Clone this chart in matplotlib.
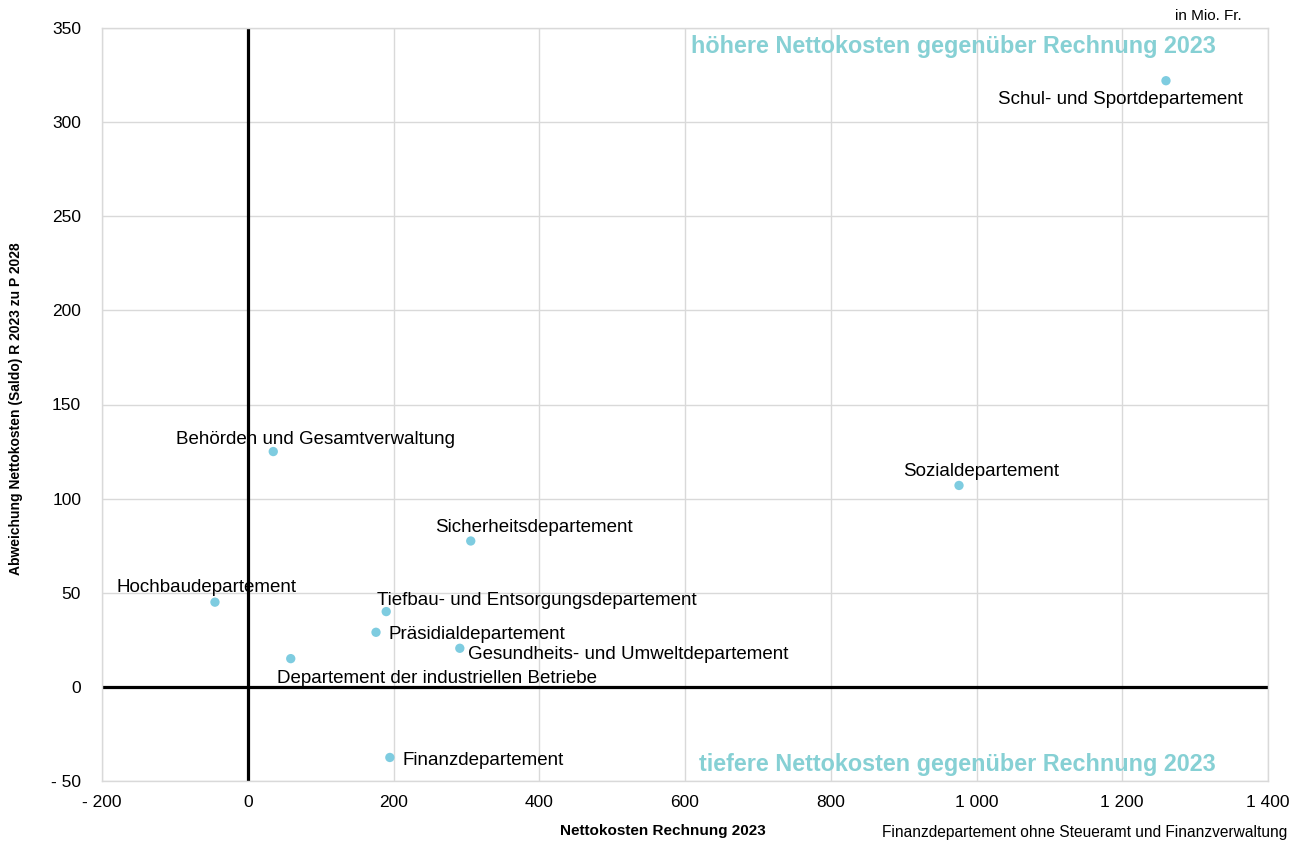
import matplotlib
matplotlib.use("Agg")
import matplotlib.pyplot as plt
from matplotlib.ticker import FuncFormatter

plt.rcParams['font.family'] = ['Liberation Sans', 'DejaVu Sans']

departments = [
    "Schul- und Sportdepartement",
    "Sozialdepartement",
    "Behörden und Gesamtverwaltung",
    "Sicherheitsdepartement",
    "Hochbaudepartement",
    "Tiefbau- und Entsorgungsdepartement",
    "Präsidialdepartement",
    "Gesundheits- und Umweltdepartement",
    "Departement der industriellen Betriebe",
    "Finanzdepartement",
]
nettokosten_2023 = [1260, 976, 35, 306, -45, 190, 176, 291, 59, 195]
abweichung = [322, 107, 125, 77.5, 45, 40, 29, 20.5, 15, -37.5]

# label placement (offset in pixels, alignment)
label_style = [
    (-46, -19, 'center', 'center'),
    (22, 14, 'center', 'center'),
    (42, 12, 'center', 'center'),
    (63, 13, 'center', 'center'),
    (-8, 15, 'center', 'center'),
    (-9, 11, 'left', 'center'),
    (12, -2, 'left', 'center'),
    (8, -6, 'left', 'center'),
    (-14, -20, 'left', 'center'),
    (13, -3, 'left', 'center'),
]

fig = plt.figure(figsize=(13, 8.42), dpi=100)
ax = fig.add_axes([102/1300, 1-781/842, (1268-102)/1300, (781-28)/842])

ax.set_xlim(-200, 1400)
ax.set_ylim(-50, 350)
ax.set_xticks(range(-200, 1401, 200))
ax.set_yticks(range(-50, 351, 50))

def fmt(v, pos):
    v = int(round(v))
    s = f"{abs(v):,}".replace(",", " ")
    return ("- " + s) if v < 0 else s

ax.xaxis.set_major_formatter(FuncFormatter(fmt))
ax.yaxis.set_major_formatter(FuncFormatter(fmt))
ax.tick_params(length=0, labelsize=12.5, colors='black')
ax.tick_params(axis='x', pad=10)
ax.tick_params(axis='y', pad=15)
ax.grid(True, color='#d9d9d9', linewidth=1)
ax.set_axisbelow(True)
for s in ax.spines.values():
    s.set_color('#d9d9d9')
    s.set_linewidth(1)

ax.axhline(0, color='black', linewidth=2.3, zorder=2)
ax.axvline(0, color='black', linewidth=2.3, zorder=2)

ax.scatter(nettokosten_2023, abweichung, s=45, color='#7ecce0', edgecolors='none', zorder=3)

for name, x, y, (dx, dy, ha, va) in zip(departments, nettokosten_2023, abweichung, label_style):
    ax.annotate(name, (x, y), xytext=(dx, dy), textcoords='offset pixels',
                ha=ha, va=va, fontsize=13.5, color='black', zorder=4)

teal = '#86d0d4'
fig.text(1216/1300, 1-47/842, "höhere Nettokosten gegenüber Rechnung 2023",
         ha='right', va='center', fontsize=16.8, fontweight='bold', color=teal)
fig.text(1216/1300, 1-765/842, "tiefere Nettokosten gegenüber Rechnung 2023",
         ha='right', va='center', fontsize=16.8, fontweight='bold', color=teal)

fig.text(1242/1300, 1-16/842, "in Mio. Fr.", ha='right', va='center', fontsize=11)
fig.text(663/1300, 1-831/842, "Nettokosten Rechnung 2023", ha='center', va='center',
         fontsize=11, fontweight='bold')
fig.text(1287/1300, 1-832/842, "Finanzdepartement ohne Steueramt und Finanzverwaltung",
         ha='right', va='center', fontsize=11.2)
fig.text(16/1300, 1-409/842, "Abweichung Nettokosten (Saldo) R 2023 zu P 2028",
         ha='center', va='center', rotation=90, fontsize=10, fontweight='bold')

fig.savefig("out.png", dpi=100)
